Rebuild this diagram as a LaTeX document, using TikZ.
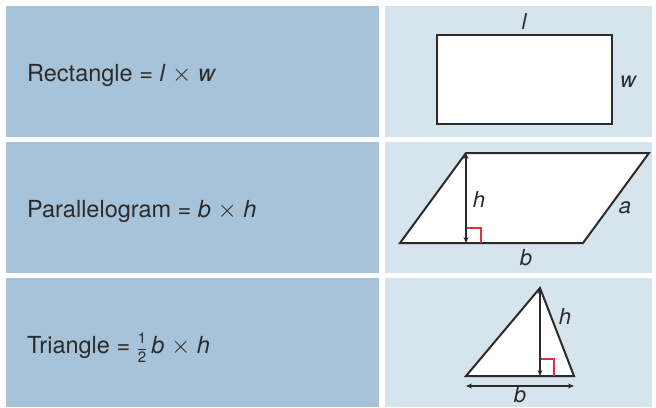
\documentclass[tikz,border=0pt]{standalone}
\usepackage{amsmath}
\usepackage{fontspec}
\setmainfont{TeX Gyre Heros}
\usetikzlibrary{arrows.meta}
\definecolor{cellL}{HTML}{A6C3D9}
\definecolor{cellR}{HTML}{D6E4EE}
\definecolor{ink}{HTML}{2B2B2B}
\definecolor{angred}{HTML}{E0303A}
\newcommand{\tms}{\ $\times$\ }
\tikzset{
  cellleft/.style={fill=cellL, draw=none},
  cellright/.style={fill=cellR, draw=none},
  formula/.style={anchor=base west, text=ink, font=\fontsize{23.5}{27}\selectfont, inner sep=0pt},
  lbl/.style={text=ink, font=\fontsize{22}{26}\selectfont\itshape, inner sep=0pt},
  figshape/.style={draw=ink, fill=white, line width=2pt, line join=miter},
  dimline/.style={draw=ink, line width=1.3pt, {Stealth[length=6pt,width=5pt]}-{Stealth[length=6pt,width=5pt]}},
  rightang/.style={draw=angred, line width=1.2pt}
}
\begin{document}
\begin{tikzpicture}[x=1pt,y=-1pt]
\useasboundingbox[fill=white] (0,0) rectangle (656,407);
% cells
\path[cellleft] (6,6) rectangle (379,137);
\path[cellright] (385,6) rectangle (652,137);
\path[cellleft] (6,142) rectangle (379,273);
\path[cellright] (385,142) rectangle (652,273);
\path[cellleft] (6,278) rectangle (379,407);
\path[cellright] (385,278) rectangle (652,407);
% formulas
\node[formula] (f1) at (27,81) {Rectangle = \textit{l}\tms\textit{w}};
\node[formula] (f2) at (27,217) {Parallelogram = \textit{b}\tms\textit{h}};
\node[formula] (f3) at (27,353) {Triangle = {\fontsize{15}{15}\selectfont$\genfrac{}{}{0.6pt}{0}{\mbox{1}}{\mbox{2}}$}\,\textit{b}\tms\textit{h}};
% rectangle
\draw[figshape] (437,35) rectangle (612,124);
\node[lbl] (rl) at (524,21) {l};
\node[lbl] (rw) at (628,82) {w};
% parallelogram
\coordinate (p1) at (400,243);
\coordinate (p2) at (466,153);
\coordinate (p3) at (649,153);
\coordinate (p4) at (583,243);
\draw[figshape] (p1) -- (p2) -- (p3) -- (p4) -- cycle;
\coordinate (pf) at (466,243);
\draw[rightang] (466,228) -- (481,228) -- (481,243);
\draw[dimline] (p2) -- (pf);
\node[lbl] (ph) at (479,199) {h};
\node[lbl] (pa) at (625,208) {a};
\node[lbl] (pb) at (526,258) {b};
% triangle
\coordinate (t1) at (466,376);
\coordinate (t2) at (540,288);
\coordinate (t3) at (574,376);
\draw[figshape] (t1) -- (t2) -- (t3) -- cycle;
\coordinate (tf) at (540,376);
\draw[rightang] (540,359) -- (554,359) -- (554,376);
\draw[dimline] (t2) -- (tf);
\node[lbl] (th) at (565,316) {h};
\coordinate (b1) at (466,386);
\coordinate (b2) at (574,386);
\draw[dimline] (b1) -- (b2);
\node[lbl] (tb) at (520,395) {b};
\end{tikzpicture}
\end{document}
